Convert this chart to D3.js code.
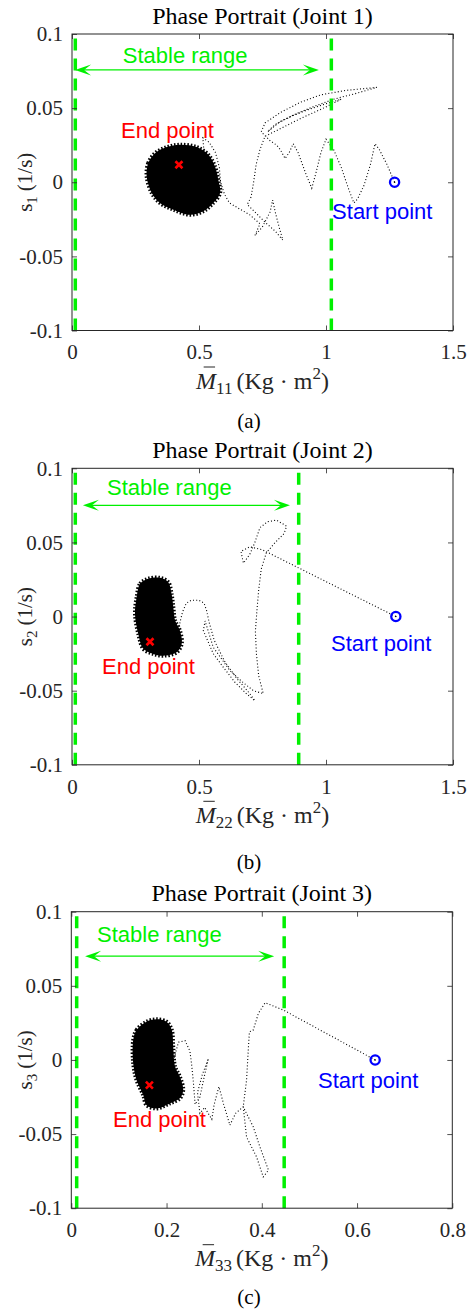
<!DOCTYPE html>
<html>
<head>
<meta charset="utf-8">
<script src="https://cdn.jsdelivr.net/npm/d3@7"></script>
<style>
  html, body { margin: 0; padding: 0; background: #fff; }
  svg { display: block; }
</style>
</head>
<body>
<div id="chart"></div>
<script>
// ---------------- DATA ----------------
const titles = ["Phase Portrait (Joint 1)", "Phase Portrait (Joint 2)", "Phase Portrait (Joint 3)"];
const captions = ["(a)", "(b)", "(c)"];
const ySubs = ["1", "2", "3"];
const xSubs = ["11", "22", "33"];
const xMaxes = [1.5, 1.5, 0.8];
const xTicks12 = [0, 0.5, 1, 1.5];
const xTickLabels12 = ["0", "0.5", "1", "1.5"];
const xTicks3 = [0, 0.2, 0.4, 0.6, 0.8];
const xTickLabels3 = ["0", "0.2", "0.4", "0.6", "0.8"];
const yTicks = [-0.1, -0.05, 0, 0.05, 0.1];
const yTickLabels = ["-0.1", "-0.05", "0", "0.05", "0.1"];

// stable range boundaries (green dashed lines) [left, right]
const stableBounds = [[0.013, 1.021], [0.013, 0.8925], [0.0113, 0.447]];
// stable-range double arrow [x0, x1, y]
const stableArrows = [[0.012, 0.972, 0.0758], [0.043, 0.858, 0.075], [0.029, 0.426, 0.070]];

const startPoints = [[1.27, 0.0], [1.275, 0.0], [0.638, 0.0]];
const endPoints = [[0.421, 0.0118], [0.307, -0.017], [0.164, -0.017]];

// dotted trajectories, from start point towards the end cluster
const traj1 = [
  [1.27,0.0],[1.24,0.012],[1.21,0.022],[1.193,0.026],[1.175,0.012],[1.15,-0.002],[1.125,-0.011],
  [1.11,-0.014],[1.09,-0.005],[1.06,0.01],[1.03,0.022],[1.0,0.029],[0.98,0.02],[0.96,0.006],
  [0.944,-0.004],[0.92,0.006],[0.89,0.02],[0.871,0.026],[0.855,0.02],[0.839,0.016],[0.82,0.022],
  [0.806,0.025],[0.78,0.028],[0.745,0.034],[0.76,0.040],[0.82,0.047],[0.90,0.054],[0.98,0.059],
  [1.08,0.062],[1.2,0.064],[1.12,0.060],[1.03,0.056],[0.95,0.051],[0.88,0.046],[0.82,0.041],
  [0.77,0.034],[0.80,0.039],[0.87,0.045],[0.93,0.049],[1.0,0.053],[1.06,0.056],[0.99,0.050],
  [0.90,0.043],[0.83,0.037],[0.76,0.031],[0.74,0.022],[0.725,0.012],[0.715,0.0],[0.705,-0.01],
  [0.69,-0.015],[0.72,-0.02],[0.76,-0.027],[0.80,-0.033],[0.83,-0.039],[0.815,-0.03],[0.80,-0.02],
  [0.79,-0.012],[0.78,-0.02],[0.75,-0.03],[0.72,-0.036],[0.74,-0.028],[0.70,-0.022],[0.66,-0.018],
  [0.62,-0.014],[0.60,-0.008],[0.585,0.0],[0.58,0.01],[0.565,0.02],[0.54,0.027],[0.515,0.03],
  [0.52,0.02],[0.55,0.012],[0.57,0.0],[0.55,-0.01],[0.5,-0.015],[0.45,-0.01],[0.42,0.012]
];
const traj2 = [
  [1.275,0.0],[0.75,0.045],[0.70,0.047],[0.665,0.044],[0.675,0.036],[0.70,0.042],[0.72,0.05],
  [0.74,0.06],[0.77,0.064],[0.805,0.065],[0.845,0.061],[0.835,0.056],[0.80,0.05],[0.765,0.043],
  [0.745,0.032],[0.735,0.018],[0.728,0.004],[0.722,-0.01],[0.726,-0.025],[0.735,-0.04],
  [0.753,-0.052],[0.714,-0.05],[0.67,-0.044],[0.622,-0.0365],[0.556,-0.0207],[0.524,-0.003],
  [0.517,-0.0095],[0.556,-0.025],[0.596,-0.0343],[0.64,-0.044],[0.688,-0.0523],[0.72,-0.0568],
  [0.70,-0.052],[0.65,-0.042],[0.60,-0.03],[0.56,-0.016],[0.54,-0.004],[0.53,0.004],[0.52,0.009],
  [0.50,0.011],[0.47,0.011],[0.45,0.009],[0.435,0.003],[0.425,-0.004],[0.42,-0.012]
];
const traj3 = [
  [0.638,0.0],[0.445,0.0337],[0.407,0.0386],[0.393,0.0315],[0.382,0.0202],[0.374,0.019],
  [0.372,0.009],[0.368,-0.0136],[0.361,-0.0316],[0.368,-0.052],[0.389,-0.0654],[0.403,-0.0789],
  [0.414,-0.0743],[0.396,-0.0586],[0.382,-0.0451],[0.361,-0.0316],[0.345,-0.036],[0.333,-0.044],
  [0.32,-0.03],[0.31,-0.018],[0.30,-0.03],[0.295,-0.04],[0.28,-0.032],[0.27,-0.036],[0.265,-0.022],
  [0.275,-0.01],[0.288,0.001],[0.28,-0.01],[0.27,-0.025],[0.26,-0.03],[0.256,-0.014],[0.253,-0.004],
  [0.249,0.006],[0.239,0.013],[0.225,0.012],[0.215,0.0]
];

// dense end-cluster outlines
const blob1 = [
  [0.294,0.0039],[0.300,0.0129],[0.327,0.0196],[0.373,0.0237],[0.425,0.0253],[0.491,0.0237],
  [0.537,0.0185],[0.563,0.0106],[0.576,0.0017],[0.583,-0.0073],[0.556,-0.0140],[0.517,-0.0196],
  [0.465,-0.0219],[0.399,-0.0185],[0.346,-0.0140],[0.314,-0.0073]
];
const blob2 = [
  [0.2545,0.0130],[0.268,0.0221],[0.300,0.0255],[0.346,0.0261],[0.379,0.0232],[0.392,0.0153],
  [0.399,0.0063],[0.406,-0.0027],[0.425,-0.0095],[0.432,-0.0184],[0.412,-0.0241],[0.359,-0.0264],
  [0.320,-0.0252],[0.281,-0.0218],[0.261,-0.0117],[0.248,0.0018]
];
const blob3 = [
  [0.130,0.0134],[0.137,0.0202],[0.158,0.0258],[0.179,0.0274],[0.200,0.0258],[0.211,0.0202],
  [0.214,0.0089],[0.218,-0.0046],[0.228,-0.0113],[0.235,-0.0203],[0.228,-0.0259],[0.207,-0.0293],
  [0.179,-0.0327],[0.158,-0.0305],[0.151,-0.0237],[0.137,-0.0136],[0.130,-0.0023]
];
const trajs = [traj1, traj2, traj3];
const blobs = [blob1, blob2, blob3];

// annotation anchors (data coordinates, left/baseline)
const stableTextPos = [[0.20, 0.0805], [0.138, 0.0818], [0.054, 0.0796]];
const endTextPos = [[0.193, 0.030], [0.118, -0.0385], [0.0876, -0.0453]];
const startTextPos = [[1.024, -0.0246], [1.02, -0.023], [0.518, -0.0189]];

// ---------------- LAYOUT ----------------
const W = 467, H = 1314;
const panelTops = [34, 468.3, 911.7];
const panelLefts = [72, 72, 71.3];
const panelRights = [453, 453, 452.3];
const panelH = 296.5;
const captionBase = [428, 869, 1304];
const GREEN = "#00f000";
const SERIF = "'Liberation Serif','Times New Roman',Times,serif";
const SANS = "'Liberation Sans',Arial,Helvetica,sans-serif";

const svg = d3.select("#chart").append("svg").attr("width", W).attr("height", H)
  .attr("viewBox", `0 0 ${W} ${H}`);

for (let p = 0; p < 3; p++) {
  const top = panelTops[p], left = panelLefts[p], right = panelRights[p];
  const bottom = top + panelH;
  const x = d3.scaleLinear().domain([0, xMaxes[p]]).range([left, right]);
  const y = d3.scaleLinear().domain([-0.1, 0.1]).range([bottom, top]);
  const g = svg.append("g");

  // data layer
  const line = d3.line().x(d => x(d[0])).y(d => y(d[1]));
  g.append("path").datum(trajs[p]).attr("d", line)
    .attr("fill", "none").attr("stroke", "#000").attr("stroke-width", 1.1)
    .attr("stroke-dasharray", "1,2.2");
  const blobLine = d3.line().x(d => x(d[0])).y(d => y(d[1])).curve(d3.curveCatmullRomClosed);
  g.append("path").datum(blobs[p]).attr("d", blobLine)
    .attr("fill", "#000").attr("stroke", "#000").attr("stroke-width", 4)
    .attr("stroke-dasharray", "1.5,1.8");

  // stable range dashed lines
  stableBounds[p].forEach(v => {
    g.append("line").attr("x1", x(v)).attr("x2", x(v)).attr("y1", bottom).attr("y2", top)
      .attr("stroke", GREEN).attr("stroke-width", 3.5).attr("stroke-dasharray", "12,8");
  });

  // double arrow
  const [a0, a1, ay] = stableArrows[p];
  const X0 = x(a0), X1 = x(a1), Y = y(ay);
  g.append("line").attr("x1", X0 + 4).attr("x2", X1 - 4).attr("y1", Y).attr("y2", Y)
    .attr("stroke", GREEN).attr("stroke-width", 1.2);
  const L = 16, Wd = 5.5, N = 9;
  g.append("path").attr("d", `M${X1},${Y} L${X1 - L},${Y - Wd} L${X1 - N},${Y} L${X1 - L},${Y + Wd} Z`).attr("fill", GREEN);
  g.append("path").attr("d", `M${X0},${Y} L${X0 + L},${Y - Wd} L${X0 + N},${Y} L${X0 + L},${Y + Wd} Z`).attr("fill", GREEN);

  // texts
  g.append("text").attr("x", x(stableTextPos[p][0])).attr("y", y(stableTextPos[p][1]))
    .style("font-family", SANS).style("font-size", "22px").attr("fill", GREEN).text("Stable range");
  g.append("text").attr("x", x(endTextPos[p][0])).attr("y", y(endTextPos[p][1]))
    .style("font-family", SANS).style("font-size", "22px").attr("fill", "#ff0000").text("End point");
  g.append("text").attr("x", x(startTextPos[p][0])).attr("y", y(startTextPos[p][1]))
    .style("font-family", SANS).style("font-size", "22px").attr("fill", "#0000ff").text("Start point");

  // start marker
  const sp = startPoints[p];
  g.append("circle").attr("cx", x(sp[0])).attr("cy", y(sp[1])).attr("r", 4.6)
    .attr("fill", "none").attr("stroke", "#0000ff").attr("stroke-width", 2.3);
  g.append("circle").attr("cx", x(sp[0])).attr("cy", y(sp[1])).attr("r", 0.8).attr("fill", "#000");
  // end marker
  const ep = endPoints[p], ex = x(ep[0]), ey = y(ep[1]), s = 3.5;
  g.append("path").attr("d", `M${ex - s},${ey - s}L${ex + s},${ey + s}M${ex - s},${ey + s}L${ex + s},${ey - s}`)
    .attr("stroke", "#ff0000").attr("stroke-width", 2.6).attr("fill", "none");

  // axes
  const xt = p < 2 ? xTicks12 : xTicks3;
  const xtl = p < 2 ? xTickLabels12 : xTickLabels3;
  const axB = d3.axisBottom(x).tickValues(xt).tickFormat((d, i) => xtl[i]).tickSizeInner(-5).tickSizeOuter(0).tickPadding(14);
  const axT = d3.axisTop(x).tickValues(xt).tickFormat("").tickSizeInner(-5).tickSizeOuter(0);
  const axL = d3.axisLeft(y).tickValues(yTicks).tickFormat((d, i) => yTickLabels[i]).tickSizeInner(-5).tickSizeOuter(0).tickPadding(9);
  const axR = d3.axisRight(y).tickValues(yTicks).tickFormat("").tickSizeInner(-5).tickSizeOuter(0);
  const styleAxis = sel => {
    sel.select(".domain").remove();
    sel.selectAll(".tick line").attr("stroke", "#262626").attr("stroke-width", 0.8);
    sel.selectAll(".tick text").style("font-family", SERIF).style("font-size", "21px").attr("fill", "#262626");
  };
  g.append("g").attr("transform", `translate(0,${bottom})`).call(axB).call(styleAxis);
  g.append("g").attr("transform", `translate(0,${top})`).call(axT).call(styleAxis);
  g.append("g").attr("transform", `translate(${left},0)`).call(axL).call(styleAxis);
  g.append("g").attr("transform", `translate(${right},0)`).call(axR).call(styleAxis);
  g.append("rect").attr("x", left).attr("y", top).attr("width", right - left).attr("height", panelH)
    .attr("fill", "none").attr("stroke", "#262626").attr("stroke-width", 1);

  // title
  g.append("text").attr("x", (left + right) / 2).attr("y", top - 10.5).attr("text-anchor", "middle")
    .style("font-family", SERIF).style("font-size", "24px").attr("fill", "#000").text(titles[p]);

  // y label
  const yl = g.append("text").attr("transform", `translate(32,${(top + bottom) / 2}) rotate(-90)`)
    .attr("text-anchor", "middle").style("font-family", SERIF).style("font-size", "21px").attr("fill", "#262626");
  yl.append("tspan").text("s");
  yl.append("tspan").attr("dy", 5).style("font-size", "15px").text(ySubs[p]);
  yl.append("tspan").attr("dy", -5).attr("dx", 5).text("(1/s)");

  // x label
  const xl = g.append("text").attr("x", (left + right) / 2).attr("y", bottom + 58).attr("text-anchor", "middle")
    .style("font-family", SERIF).style("font-size", "24px").attr("fill", "#262626");
  xl.append("tspan").style("font-style", "italic").text("M");
  xl.append("tspan").attr("dy", 5).style("font-size", "17px").text(xSubs[p]);
  xl.append("tspan").attr("dy", -5).attr("dx", 4).text("(Kg · m");
  xl.append("tspan").attr("dy", -10).style("font-size", "17px").text("2");
  xl.append("tspan").attr("dy", 10).text(")");
  const ext = xl.node().getExtentOfChar(0);
  g.append("line").attr("x1", ext.x + ext.width * 0.38).attr("x2", ext.x + ext.width * 0.95)
    .attr("y1", bottom + 58 - 21.5).attr("y2", bottom + 58 - 21.5)
    .attr("stroke", "#262626").attr("stroke-width", 1);

  // caption
  svg.append("text").attr("x", 249).attr("y", captionBase[p]).attr("text-anchor", "middle")
    .style("font-family", SERIF).style("font-size", "21px").attr("fill", "#000").text(captions[p]);
}
</script>
</body>
</html>
